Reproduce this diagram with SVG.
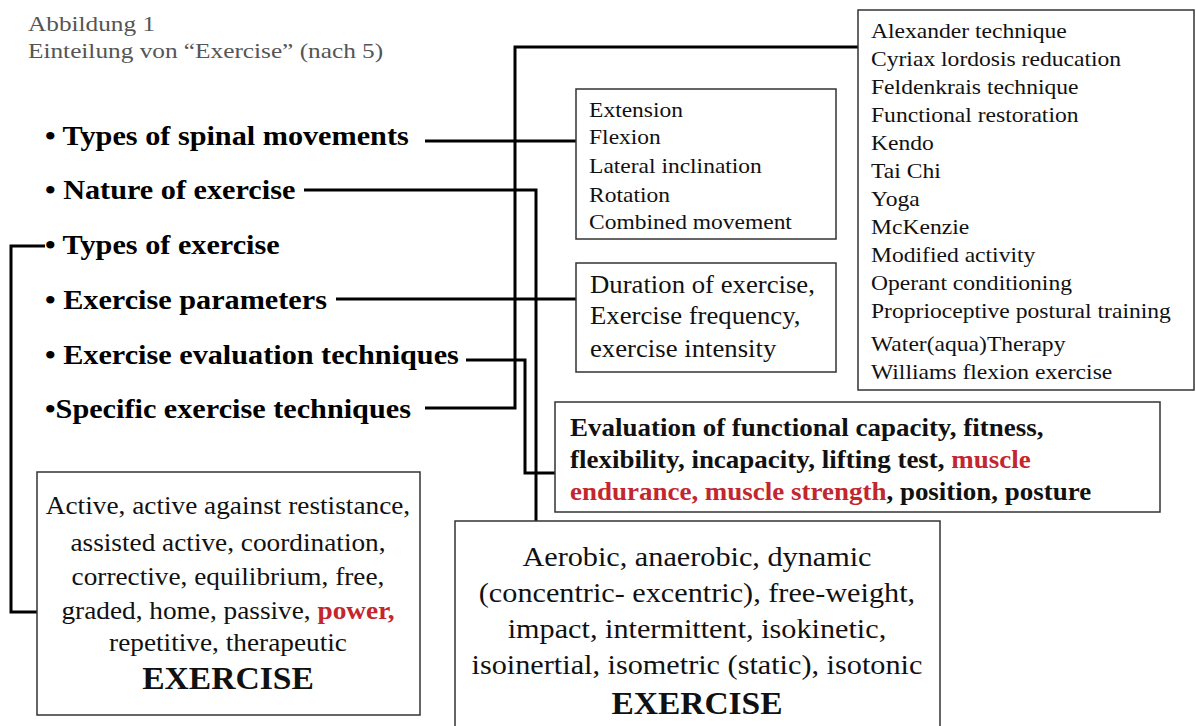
<svg xmlns="http://www.w3.org/2000/svg" width="1196" height="726" viewBox="0 0 1196 726">
<style>
text{font-family:"Liberation Serif","Times New Roman","DejaVu Serif",serif}
.cap{font-size:22px;fill:#555}
.item{font-size:28px;font-weight:bold;fill:#000}
.t{fill:#111}
.box{fill:#fff;stroke:#333;stroke-width:1.5}
.red{fill:#c4262e}
.con{fill:none;stroke:#000;stroke-width:3}
</style>
<rect width="1196" height="726" fill="#fff"/>
<g id="caption" transform="translate(-4.2 0) scale(1.15 1)">
<text class="cap" x="28" y="31">Abbildung 1</text>
<text class="cap" x="28" y="58">Einteilung von “Exercise” (nach 5)</text>
</g>
<g id="connectors">
<polyline class="con" points="425,141 576,141"/>
<polyline class="con" points="304,190 536,190 536,521"/>
<polyline class="con" points="45,246 11,246 11,612 37,612"/>
<polyline class="con" points="336,299 576,299"/>
<polyline class="con" points="466,360 525,360 525,473 555,473"/>
<polyline class="con" points="425,408 515,408 515,47 858,47"/>
</g>
<g id="list" transform="translate(-3.6 0) scale(1.08 1)">
<text class="item" x="45" y="145">• Types of spinal movements</text>
<text class="item" x="45" y="199">• Nature of exercise</text>
<text class="item" x="45" y="254">• Types of exercise</text>
<text class="item" x="45" y="309">• Exercise parameters</text>
<text class="item" x="45" y="364">• Exercise evaluation techniques</text>
<text class="item" x="45" y="418">•Specific exercise techniques</text>
</g>
<g id="movements">
<rect class="box" x="576" y="89" width="260" height="150"/>
<text class="t" font-size="22" transform="translate(-40 0) scale(1.068 1)"><tspan x="589" y="117">Extension</tspan><tspan x="589" y="144">Flexion</tspan><tspan x="589" y="173">Lateral inclination</tspan><tspan x="589" y="202">Rotation</tspan><tspan x="589" y="229">Combined movement</tspan></text>
</g>
<g id="parameters">
<rect class="box" x="576" y="263" width="260" height="109"/>
<text class="t" font-size="25" transform="translate(-41.3 0) scale(1.07 1)"><tspan x="590" y="293">Duration of exercise,</tspan><tspan x="590" y="324">Exercise frequency,</tspan><tspan x="590" y="357">exercise intensity</tspan></text>
</g>
<g id="techniques">
<rect class="box" x="858" y="10" width="336" height="380"/>
<text class="t" font-size="22" transform="translate(-62.7 0) scale(1.072 1)"><tspan x="871" y="38">Alexander technique</tspan><tspan x="871" y="66">Cyriax lordosis reducation</tspan><tspan x="871" y="94">Feldenkrais technique</tspan><tspan x="871" y="122">Functional restoration</tspan><tspan x="871" y="150">Kendo</tspan><tspan x="871" y="178">Tai Chi</tspan><tspan x="871" y="206">Yoga</tspan><tspan x="871" y="234">McKenzie</tspan><tspan x="871" y="262">Modified activity</tspan><tspan x="871" y="290">Operant conditioning</tspan><tspan x="871" y="318">Proprioceptive postural training</tspan><tspan x="871" y="351">Water(aqua)Therapy</tspan><tspan x="871" y="379">Williams flexion exercise</tspan></text>
</g>
<g id="evaluation">
<rect class="box" x="555" y="402" width="605" height="110"/>
<text class="t" font-size="25" font-weight="bold" transform="translate(-45 0) scale(1.079 1)"><tspan x="570" y="436">Evaluation of functional capacity, fitness,</tspan><tspan x="570" y="468">flexibility, incapacity, lifting test, <tspan class="red">muscle</tspan></tspan><tspan x="570" y="500"><tspan class="red">endurance, muscle strength</tspan>, position, posture</tspan></text>
</g>
<g id="types">
<rect class="box" x="37" y="472" width="383" height="243"/>
<text class="t" font-size="26" text-anchor="middle" transform="translate(-11.4 0) scale(1.05 1)"><tspan x="228" y="514">Active, active against restistance,</tspan><tspan x="228" y="551">assisted active, coordination,</tspan><tspan x="228" y="585">corrective, equilibrium, free,</tspan><tspan x="228" y="619">graded, home, passive, <tspan class="red" font-weight="bold">power,</tspan></tspan><tspan x="228" y="651">repetitive, therapeutic</tspan><tspan x="228" y="689" font-weight="bold" font-size="32">EXERCISE</tspan></text>
</g>
<g id="nature">
<rect class="box" x="455" y="521" width="485" height="215"/>
<text class="t" font-size="28" text-anchor="middle" transform="translate(-55.8 0) scale(1.08 1)"><tspan x="697" y="566">Aerobic, anaerobic, dynamic</tspan><tspan x="697" y="602">(concentric- excentric), free-weight,</tspan><tspan x="697" y="638">impact, intermittent, isokinetic,</tspan><tspan x="697" y="674">isoinertial, isometric (static), isotonic</tspan><tspan x="697" y="714" font-weight="bold" font-size="31">EXERCISE</tspan></text>
</g>
</svg>
